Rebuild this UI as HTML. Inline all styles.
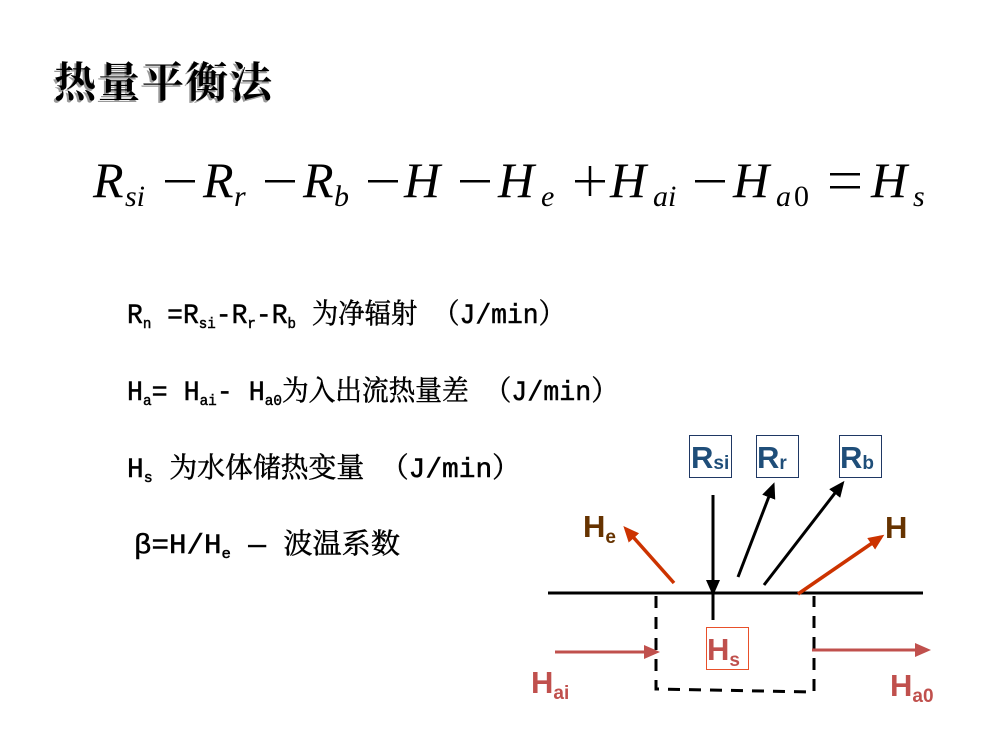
<!DOCTYPE html>
<html><head><meta charset="utf-8"><style>
html,body{margin:0;padding:0;background:#fff;}
svg{display:block}
.t{font-family:"Liberation Serif","Noto Serif CJK SC",serif;}
.m{font-family:"Liberation Mono","Noto Serif CJK SC",monospace;}
.e{font-family:"Liberation Serif",serif;font-style:italic;}
.s{font-family:"Liberation Sans",sans-serif;font-weight:bold;}
</style></head><body>
<svg width="1000" height="750" viewBox="0 0 1000 750">
<defs>
<marker id="ak" markerWidth="16" markerHeight="14" refX="12" refY="7" orient="auto" markerUnits="userSpaceOnUse"><path d="M0,0 L16,7 L0,14 z" fill="#000"/></marker>
<marker id="ar" markerWidth="16" markerHeight="14" refX="12" refY="7" orient="auto" markerUnits="userSpaceOnUse"><path d="M0,0 L16,7 L0,14 z" fill="#cc3300"/></marker>
<marker id="ap" markerWidth="16" markerHeight="14" refX="12" refY="7" orient="auto" markerUnits="userSpaceOnUse"><path d="M0,0 L16,7 L0,14 z" fill="#c0504d"/></marker>
</defs>
<text x="52" y="99" class="t" font-size="42" font-weight="bold" fill="#999" textLength="218">热量平衡法</text>
<text x="54" y="97" class="t" font-size="42" font-weight="bold" fill="#000" textLength="218">热量平衡法</text>
<g class="e" fill="#000">
<text x="93" y="197" font-size="50">R</text><text x="125" y="206" font-size="30">si</text>
<rect x="165" y="180" width="30" height="2.5"/>
<text x="203" y="197" font-size="50">R</text><text x="234" y="206" font-size="30">r</text>
<rect x="265" y="180" width="30" height="2.5"/>
<text x="303" y="197" font-size="50">R</text><text x="334" y="206" font-size="30">b</text>
<rect x="368" y="180" width="30" height="2.5"/>
<text x="404" y="197" font-size="50">H</text>
<rect x="460" y="180" width="30" height="2.5"/>
<text x="498" y="197" font-size="50">H</text><text x="541" y="206" font-size="30">e</text>
<rect x="575" y="180" width="30" height="2.5"/><rect x="588.75" y="166" width="2.5" height="30"/>
<text x="610" y="197" font-size="50">H</text><text x="653" y="206" font-size="30">ai</text>
<rect x="695" y="180" width="30" height="2.5"/>
<text x="733" y="197" font-size="50">H</text><text x="776" y="206" font-size="30">a</text><text x="794" y="206" font-size="30" style="font-style:normal">0</text>
<rect x="830" y="173" width="30" height="2.5"/><rect x="830" y="186" width="30" height="2.5"/>
<text x="871" y="197" font-size="50">H</text><text x="913" y="206" font-size="30">s</text>
</g>
<g class="m" fill="#000" stroke="#000" stroke-width="0.5" font-size="28">
<text x="127" y="323" textLength="438" lengthAdjust="spacingAndGlyphs">R<tspan font-size="15" dy="5">n</tspan><tspan dy="-5"> =R</tspan><tspan font-size="15" dy="5">si</tspan><tspan dy="-5">-R</tspan><tspan font-size="15" dy="5">r</tspan><tspan dy="-5">-R</tspan><tspan font-size="15" dy="5">b</tspan><tspan dy="-5"> 为净辐射  （J/min）</tspan></text>
<text x="127" y="400" textLength="491" lengthAdjust="spacingAndGlyphs">H<tspan font-size="15" dy="5">a</tspan><tspan dy="-5">= H</tspan><tspan font-size="15" dy="5">ai</tspan><tspan dy="-5">- H</tspan><tspan font-size="15" dy="5">a0</tspan><tspan dy="-5">为入出流热量差 （J/min）</tspan></text>
<text x="127" y="477" textLength="393" lengthAdjust="spacingAndGlyphs">H<tspan font-size="15" dy="5">s</tspan><tspan dy="-5"> 为水体储热变量 （J/min）</tspan></text>
<text x="134" y="553" textLength="266" lengthAdjust="spacingAndGlyphs">β=H/H<tspan font-size="15" dy="5">e</tspan><tspan dy="-5"> — 波温系数</tspan></text>
</g>
<g fill="none">
<rect x="689.5" y="435.5" width="42" height="42" stroke="#1f3864" stroke-width="1"/>
<rect x="756.5" y="435.5" width="42" height="42" stroke="#1f3864" stroke-width="1"/>
<rect x="839.5" y="435.5" width="42" height="42" stroke="#1f3864" stroke-width="1"/>
<rect x="706.5" y="627.5" width="42" height="42" stroke="#e8502a" stroke-width="1"/>
<line x1="548" y1="593" x2="923" y2="593" stroke="#000" stroke-width="3"/>
<line x1="713" y1="593" x2="713" y2="620" stroke="#000" stroke-width="3"/>
<path d="M656,596 L656,689 L814,692 L814,596" stroke="#000" stroke-width="3" stroke-dasharray="12,9"/>
<line x1="713" y1="495" x2="713" y2="592" stroke="#000" stroke-width="3" marker-end="url(#ak)"/>
<line x1="738" y1="577" x2="773" y2="486" stroke="#000" stroke-width="3" marker-end="url(#ak)"/>
<line x1="764" y1="585" x2="842" y2="484" stroke="#000" stroke-width="3" marker-end="url(#ak)"/>
<line x1="674" y1="583" x2="626" y2="529" stroke="#cc3300" stroke-width="3.5" marker-end="url(#ar)"/>
<line x1="798" y1="594" x2="881" y2="537" stroke="#cc3300" stroke-width="3.5" marker-end="url(#ar)"/>
<line x1="555" y1="652" x2="656" y2="652" stroke="#c0504d" stroke-width="3" marker-end="url(#ap)"/>
<line x1="812" y1="650" x2="927" y2="650" stroke="#c0504d" stroke-width="3" marker-end="url(#ap)"/>
</g>
<g class="s">
<text x="691" y="468" font-size="31" fill="#1f4e79">R<tspan font-size="19" dy="1">si</tspan></text>
<text x="757" y="468" font-size="31" fill="#1f4e79">R<tspan font-size="19" dy="1">r</tspan></text>
<text x="840" y="468" font-size="31" fill="#1f4e79">R<tspan font-size="19" dy="1">b</tspan></text>
<text x="583" y="537" font-size="31" fill="#663300">H<tspan font-size="19" dy="6">e</tspan></text>
<text x="885" y="538" font-size="31" fill="#663300">H</text>
<text x="707" y="660" font-size="31" fill="#c0504d">H<tspan font-size="19" dy="6">s</tspan></text>
<text x="531" y="693" font-size="31" fill="#c0504d">H<tspan font-size="19" dy="6">ai</tspan></text>
<text x="890" y="696" font-size="31" fill="#c0504d">H<tspan font-size="19" dy="6">a0</tspan></text>
</g>
</svg>
</body></html>
